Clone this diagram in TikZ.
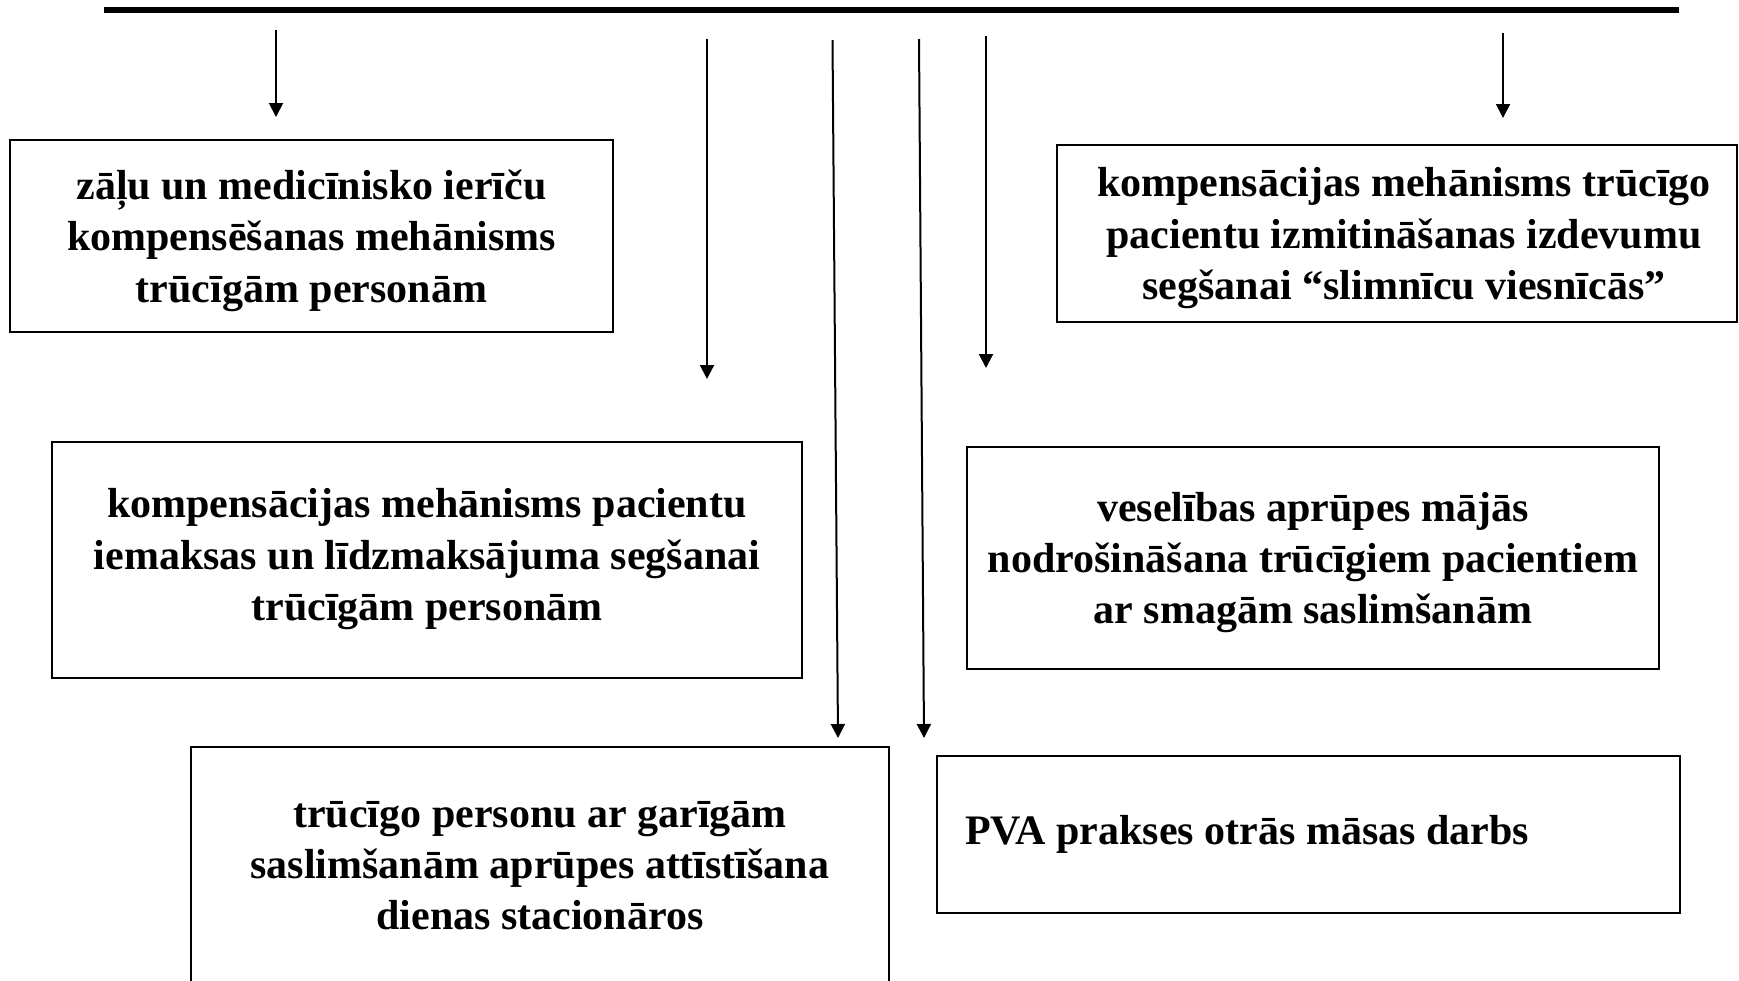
\documentclass[tikz,border=0pt]{standalone}
\usepackage{fontspec}
\setmainfont{Liberation Serif}
\usetikzlibrary{arrows.meta}
\begin{document}
\begin{tikzpicture}[x=0.5pt,y=-0.5pt,
  box/.style={draw=black, line width=1.1pt, align=center, inner sep=0pt,
    text depth=0pt, font=\fontsize{21}{25.6}\selectfont\bfseries},
  arr/.style={line width=1pt, -{Triangle[length=7pt,width=7pt]}},
  bar/.style={line width=3pt}]
\clip (0,0) rectangle (1739,980);
\fill[white] (0,0) rectangle (1739,980);
% top bar
\coordinate (L) at (104,10);
\coordinate (R) at (1679,10);
\draw[bar] (L) -- (R);
% boxes
\node[box, minimum width=301.5pt, minimum height=96pt] (b1) at (311.5,236)
  {zāļu un medicīnisko ierīču\\kompensēšanas mehānisms\\trūcīgām personām};
\node[box, minimum width=340pt, minimum height=88.5pt] (b2) at (1397,233.5)
  {\hspace*{7pt}kompensācijas mehānisms trūcīgo\\\hspace*{7pt}pacientu izmitināšanas izdevumu\\\hspace*{7pt}segšanai “slimnīcu viesnīcās”};
\node[box, minimum width=375pt, minimum height=118pt, text depth=5.5pt] (b3) at (427,560)
  {kompensācijas mehānisms pacientu\\iemaksas un līdzmaksājuma segšanai\\trūcīgām personām};
\node[box, minimum width=346pt, minimum height=111pt] (b4) at (1313,558)
  {veselības aprūpes mājās\\nodrošināšana trūcīgiem pacientiem\\ar smagām saslimšanām};
\node[box, minimum width=349pt, minimum height=118.5pt] (b5) at (540,865.5)
  {trūcīgo personu ar garīgām\\saslimšanām aprūpes attīstīšana\\dienas stacionāros};
\node[box, minimum width=371.5pt, minimum height=78.5pt] (b6) at (1308.5,834.5)
  {\makebox[343.5pt][l]{\raisebox{4.75pt}{PVA prakses otrās māsas darbs}}};
% arrow end points
\coordinate (s1) at (276,30);   \coordinate (e1) at (276,117);
\coordinate (s2) at (707,39);   \coordinate (e2) at (707,379);
\coordinate (s3) at (832.5,40); \coordinate (e3) at (838,738);
\coordinate (s4) at (919,39);   \coordinate (e4) at (924,738);
\coordinate (s5) at (986,36);   \coordinate (e5) at (986,368);
\coordinate (s6) at (1503,33);  \coordinate (e6) at (1503,118);
\draw[arr] (s1) -- (e1);
\draw[arr] (s2) -- (e2);
\draw[arr] (s3) -- (e3);
\draw[arr] (s4) -- (e4);
\draw[arr] (s5) -- (e5);
\draw[arr] (s6) -- (e6);
\end{tikzpicture}
\end{document}
